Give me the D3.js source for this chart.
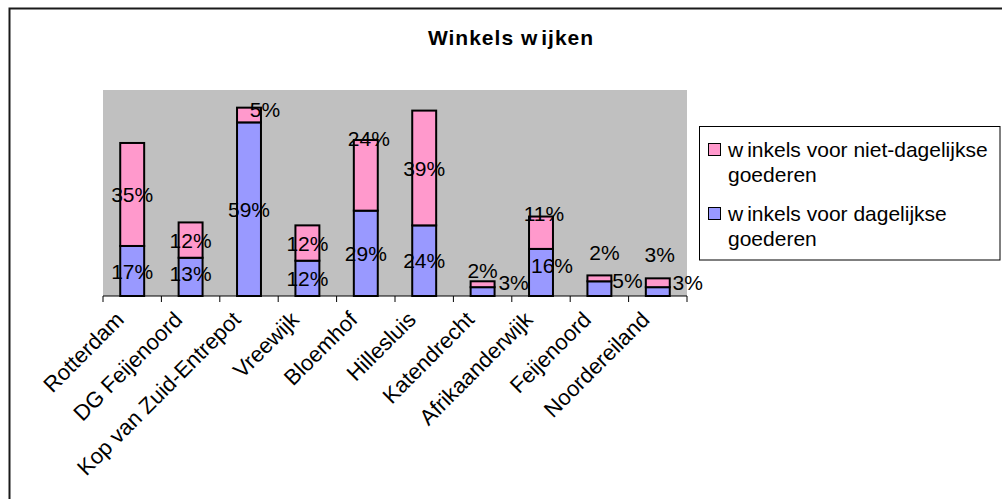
<!DOCTYPE html>
<html>
<head>
<meta charset="utf-8">
<script src="https://cdn.jsdelivr.net/npm/d3@7"></script>
<style>
  html, body { margin: 0; padding: 0; background: #ffffff; }
  svg { display: block; font-family: "Liberation Sans", Arial, sans-serif; }
</style>
</head>
<body>
<svg id="chart" width="1002" height="499"></svg>
<script>
// Wijken (districts) on the x axis
const categories = ["Rotterdam", "DG Feijenoord", "Kop van Zuid-Entrepot", "Vreewijk", "Bloemhof",
                    "Hillesluis", "Katendrecht", "Afrikaanderwijk", "Feijenoord", "Noordereiland"];
// Share of shops per district (%)
const dagelijks = [17, 13, 59, 12, 29, 24, 3, 16, 5, 3];
const nietDagelijks = [35, 12, 5, 12, 24, 39, 2, 11, 2, 3];
const seriesKeys = ["dagelijks", "nietDagelijks"];
const legendLabels = [
  ["winkels voor niet-dagelijkse", "goederen"],
  ["winkels voor dagelijkse", "goederen"]
];
const yDomainMax = 70;

// Colours per series
const colors = { dagelijks: "#9999FF", nietDagelijks: "#FF99CC" };

// Hand-placed value labels for small / crowded segments (px offset from segment centre)
const labelNudge = {
  "nietDagelijks|Kop van Zuid-Entrepot": [16, -6],
  "nietDagelijks|Bloemhof": [3, -37],
  "nietDagelijks|Katendrecht": [0, -14],
  "dagelijks|Katendrecht": [31, -9],
  "nietDagelijks|Afrikaanderwijk": [3, -19],
  "dagelijks|Afrikaanderwijk": [11, -7],
  "nietDagelijks|Feijenoord": [5, -26],
  "dagelijks|Feijenoord": [28, -8],
  "nietDagelijks|Noordereiland": [2, -28],
  "dagelijks|Noordereiland": [30, -9],
  "dagelijks|DG Feijenoord": [0, -3]
};

const rows = categories.map((c, i) => ({ wijk: c, dagelijks: dagelijks[i], nietDagelijks: nietDagelijks[i] }));
const stacked = d3.stack().keys(seriesKeys)(rows);

const svg = d3.select("#chart");
const plot = { left: 103, right: 687, top: 90, bottom: 296 };

// Outer chart frame (runs past the right and bottom edge)
svg.append("rect")
  .attr("x", 9.5).attr("y", 8.5).attr("width", 1010).attr("height", 510)
  .attr("fill", "none").attr("stroke", "#1a1a1a").attr("stroke-width", 2);

// Title
const title = svg.append("text")
  .attr("x", 511).attr("y", 45)
  .attr("text-anchor", "middle")
  .attr("font-size", 21).attr("font-weight", "bold")
  .attr("letter-spacing", 1)
  .attr("fill", "#000");
title.append("tspan").text("Winkels w");
title.append("tspan").attr("dx", 3).text("ijken");

const x = d3.scaleBand().domain(categories).range([plot.left, plot.right]).paddingInner(0.59).paddingOuter(0.295);
const band = d3.scaleBand().domain(categories).range([plot.left, plot.right]);
const y = d3.scaleLinear().domain([0, yDomainMax]).range([plot.bottom, plot.top]);

// Plot area background
svg.append("rect")
  .attr("x", plot.left).attr("y", plot.top)
  .attr("width", plot.right - plot.left).attr("height", plot.bottom - plot.top)
  .attr("fill", "#C0C0C0");

// Stacked bars
svg.append("g").selectAll("g")
  .data(stacked).join("g")
  .attr("fill", d => colors[d.key])
  .selectAll("rect")
  .data(d => d).join("rect")
  .attr("x", d => x(d.data.wijk))
  .attr("y", d => y(d[1]))
  .attr("width", x.bandwidth())
  .attr("height", d => y(d[0]) - y(d[1]))
  .attr("stroke", "#000").attr("stroke-width", 2);

// X axis: baseline + ticks between categories
const tickXs = categories.map(c => band(c)).concat([plot.right]);
svg.append("line")
  .attr("x1", plot.left).attr("x2", plot.right)
  .attr("y1", plot.bottom).attr("y2", plot.bottom)
  .attr("stroke", "#000").attr("stroke-width", 1);
svg.append("g").selectAll("line")
  .data(tickXs).join("line")
  .attr("x1", d => d).attr("x2", d => d)
  .attr("y1", plot.bottom).attr("y2", plot.bottom + 6)
  .attr("stroke", "#000").attr("stroke-width", 1);

// Rotated category labels
svg.append("g").selectAll("text")
  .data(categories).join("text")
  .attr("transform", d => `translate(${band(d) + band.bandwidth() / 2 - 7},321) rotate(-45)`)
  .attr("text-anchor", "end")
  .attr("font-size", 22)
  .attr("fill", "#000")
  .text(d => d);

// Value labels
const labelData = [];
stacked.forEach(s => s.forEach(d => {
  labelData.push({ key: s.key, wijk: d.data.wijk, v: d.data[s.key], y0: d[0], y1: d[1] });
}));
svg.append("g").selectAll("text")
  .data(labelData).join("text")
  .attr("x", d => band(d.wijk) + band.bandwidth() / 2 + (labelNudge[d.key + "|" + d.wijk] || [0, 0])[0])
  .attr("y", d => (y(d.y0) + y(d.y1)) / 2 + (labelNudge[d.key + "|" + d.wijk] || [0, 0])[1])
  .attr("dy", "0.36em")
  .attr("text-anchor", "middle")
  .attr("font-size", 21)
  .attr("fill", "#000")
  .text(d => d.v + "%");

// Legend
const legend = svg.append("g");
legend.append("rect")
  .attr("x", 699.5).attr("y", 126.5).attr("width", 300.5).attr("height", 133.5)
  .attr("fill", "#fff").attr("stroke", "#000").attr("stroke-width", 1);
const legendKeys = ["nietDagelijks", "dagelijks"];
legendKeys.forEach((k, i) => {
  const top = 143 + i * 64;
  legend.append("rect")
    .attr("x", 708.5).attr("y", top + 0.5).attr("width", 12).attr("height", 12)
    .attr("fill", colors[k]).attr("stroke", "#000").attr("stroke-width", 1);
  const t1 = legend.append("text")
    .attr("x", 728).attr("y", top + 14)
    .attr("font-size", 21).attr("fill", "#000");
  t1.append("tspan").text(legendLabels[i][0].slice(0, 1));
  t1.append("tspan").attr("dx", 4).text(legendLabels[i][0].slice(1));
  legend.append("text")
    .attr("x", 728).attr("y", top + 39)
    .attr("font-size", 21).attr("fill", "#000")
    .text(legendLabels[i][1]);
});
</script>
</body>
</html>
